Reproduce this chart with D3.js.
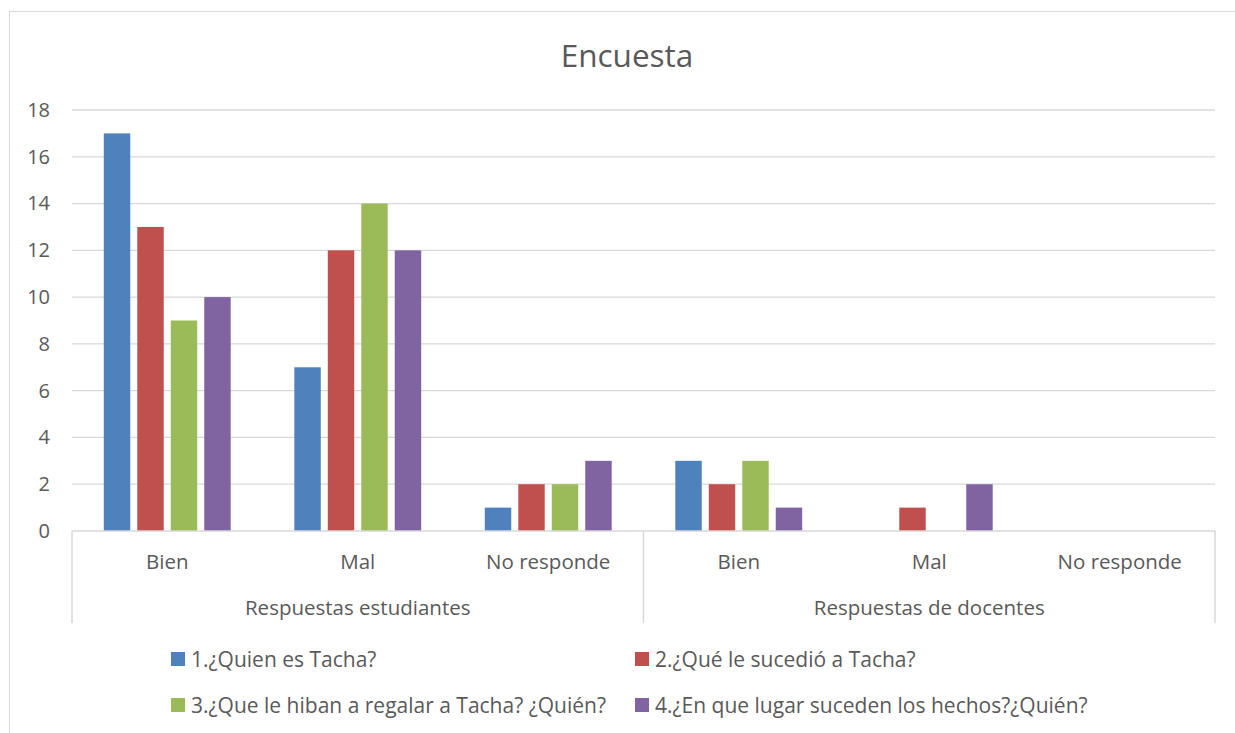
<!DOCTYPE html>
<html>
<head>
<meta charset="utf-8">
<script src="https://cdn.jsdelivr.net/npm/d3@7"></script>
<style>
  body { margin: 0; background: #fff; }
  text { font-family: "Open Sans", sans-serif; fill: #595959; }
</style>
</head>
<body>
<div id="chart"></div>
<script>
// data
const groups = ["Respuestas estudiantes", "Respuestas de docentes"];
const answers = ["Bien", "Mal", "No responde"];
const series = [
  "1.¿Quien es Tacha?",
  "2.¿Qué le sucedió a Tacha?",
  "3.¿Que le hiban a regalar a Tacha? ¿Quién?",
  "4.¿En que lugar suceden los hechos?¿Quién?"
];
const colors = ["#4F81BD", "#C0504D", "#9BBB59", "#8064A2"];
// one array per series, ordered: estudiantes Bien, Mal, No responde, docentes Bien, Mal, No responde
const q1 = [17, 7, 1, 3, 0, 0];
const q2 = [13, 12, 2, 2, 1, 0];
const q3 = [9, 14, 2, 3, 0, 0];
const q4 = [10, 12, 3, 1, 2, 0];
const yTicks = [0, 2, 4, 6, 8, 10, 12, 14, 16, 18];

const values = [q1, q2, q3, q4];
const cats = [];
groups.forEach(g => answers.forEach(a => cats.push({ group: g, answer: a, key: g + "|" + a })));

const width = 1235, height = 733;
const margin = { top: 110, left: 72, right: 20, bottom: 202 };
const iwidth = width - margin.left - margin.right;
const iheight = height - margin.top - margin.bottom;

const svg = d3.select("#chart").append("svg")
  .attr("width", width)
  .attr("height", height);

// chart frame
svg.append("rect")
  .attr("x", 9.5).attr("y", 11.5)
  .attr("width", 1240).attr("height", 740)
  .attr("fill", "none").attr("stroke", "#d9d9d9");

svg.append("text")
  .attr("x", 627).attr("y", 67)
  .attr("text-anchor", "middle")
  .style("font-size", "31.5px")
  .text("Encuesta");

const g = svg.append("g").attr("transform", `translate(${margin.left},${margin.top})`);

const y = d3.scaleLinear().domain([0, 18]).range([iheight, 0]);
const x = d3.scaleBand().domain(cats.map(c => c.key)).range([0, iwidth]).paddingInner(0).paddingOuter(0);
const x1 = d3.scaleBand().domain(series).range([0, x.bandwidth()]).paddingInner(0.21).paddingOuter(0.95);

// gridlines
g.append("g")
  .selectAll("line")
  .data(yTicks.filter(d => d > 0))
  .join("line")
  .attr("x1", 0).attr("x2", iwidth)
  .attr("y1", d => y(d)).attr("y2", d => y(d))
  .attr("stroke", "#d9d9d9").attr("stroke-width", 1.3);

// y axis labels
const yAxis = g.append("g")
  .call(d3.axisLeft(y).tickValues(yTicks).tickSize(0).tickPadding(22));
yAxis.select(".domain").remove();
yAxis.selectAll("text").style("font-size", "20px").attr("fill", "#595959");

// bars
series.forEach((s, i) => {
  g.append("g")
    .selectAll("rect")
    .data(cats.map((c, j) => ({ key: c.key, v: values[i][j] })))
    .join("rect")
    .attr("x", d => x(d.key) + x1(s))
    .attr("y", d => y(d.v))
    .attr("width", x1.bandwidth())
    .attr("height", d => iheight - y(d.v))
    .attr("fill", colors[i]);
});

// category axis, multi-level
const axisLineY = iheight;
g.append("line")
  .attr("x1", 0).attr("x2", iwidth)
  .attr("y1", axisLineY).attr("y2", axisLineY)
  .attr("stroke", "#d9d9d9").attr("stroke-width", 1.5);

const groupEdges = [0, x(cats[3].key), iwidth];
g.append("g")
  .selectAll("line")
  .data(groupEdges)
  .join("line")
  .attr("x1", d => d).attr("x2", d => d)
  .attr("y1", axisLineY).attr("y2", axisLineY + 92)
  .attr("stroke", "#d9d9d9").attr("stroke-width", 1.5);

g.append("g")
  .selectAll("text")
  .data(cats)
  .join("text")
  .attr("x", d => x(d.key) + x.bandwidth() / 2)
  .attr("y", axisLineY + 38)
  .attr("text-anchor", "middle")
  .style("font-size", "20.5px")
  .text(d => d.answer);

g.append("g")
  .selectAll("text")
  .data(groups)
  .join("text")
  .attr("x", (d, i) => (groupEdges[i] + groupEdges[i + 1]) / 2)
  .attr("y", axisLineY + 84)
  .attr("text-anchor", "middle")
  .style("font-size", "20.5px")
  .text(d => d);

// legend, 2 x 2
const legX = [171, 635];
const legY = [659, 705];
const legend = svg.append("g")
  .selectAll("g")
  .data(series)
  .join("g")
  .attr("transform", (d, i) => `translate(${legX[i % 2]},${legY[Math.floor(i / 2)]})`);
legend.append("rect")
  .attr("x", 0).attr("y", -7)
  .attr("width", 14).attr("height", 14)
  .attr("fill", (d, i) => colors[i]);
legend.append("text")
  .attr("x", 20).attr("y", 7.5)
  .style("font-size", "21px")
  .text(d => d);
</script>
</body>
</html>
